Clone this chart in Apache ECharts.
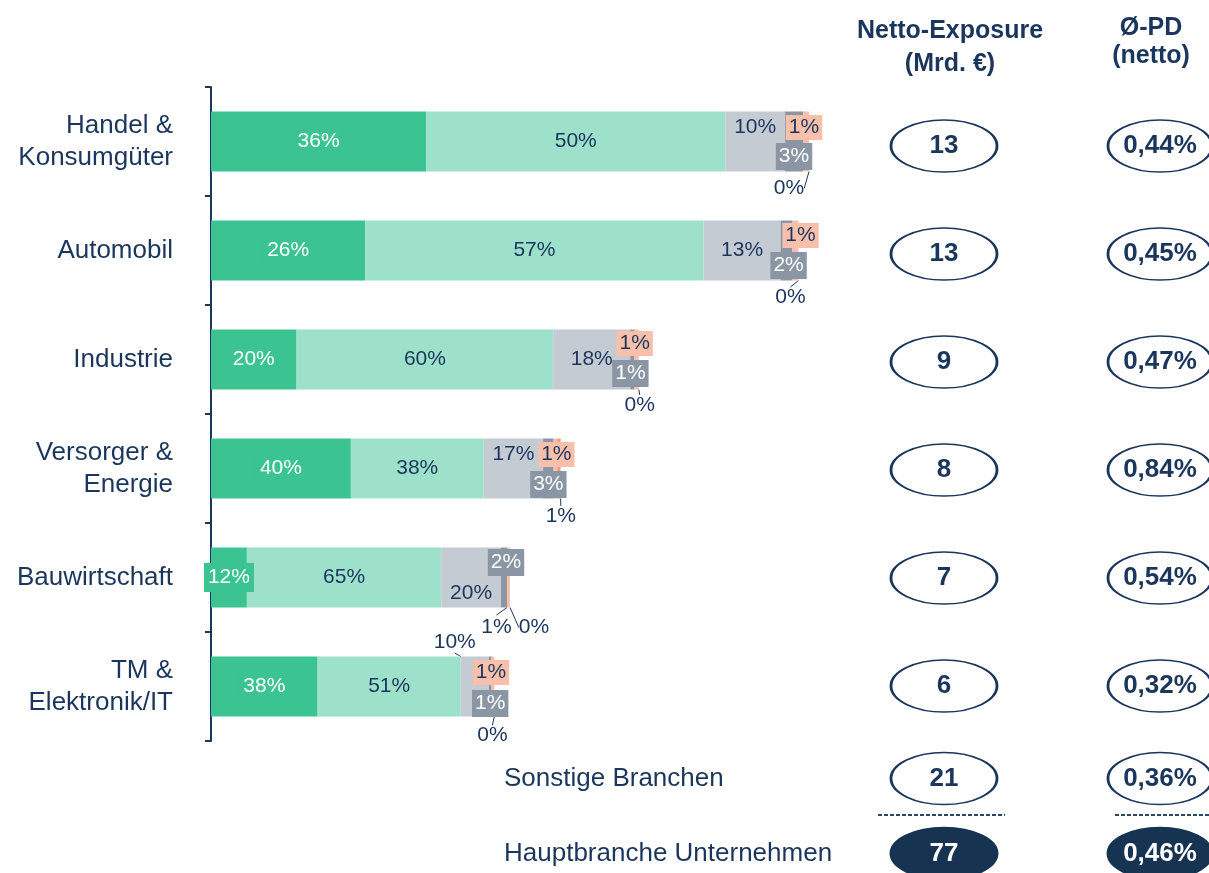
<!DOCTYPE html>
<html>
<head>
<meta charset="utf-8">
<script src="https://cdn.jsdelivr.net/npm/echarts@6/dist/echarts.min.js"></script>
<style>html,body{margin:0;padding:0;background:#fff}#c{width:1209px;height:873px}</style>
</head>
<body>
<div id="c"></div>
<script>
// ---------- DATA ----------
const categories = ['Handel &\nKonsumgüter', 'Automobil', 'Industrie', 'Versorger &\nEnergie', 'Bauwirtschaft', 'TM &\nElektronik/IT'];
const exposureLen = [13.0, 12.9, 9.3, 7.6, 6.5, 6.1];   // bar length (Mrd. €)
const shareA = [36, 26, 20, 40, 12, 38];   // dark green
const shareB = [50, 57, 60, 38, 65, 51];   // light green
const shareC = [10, 13, 18, 17, 20, 10];   // light grey
const shareD = [3, 2, 1, 3, 2, 1];         // dark grey
const shareE = [1, 1, 1, 1, 1, 1];         // salmon
const shareF = [0, 0, 0, 1, 0, 0];         // rest
const exposureLabels = ['13', '13', '9', '8', '7', '6'];
const pdLabels = ['0,44%', '0,45%', '0,47%', '0,84%', '0,54%', '0,32%'];
const summaryRows = ['Sonstige Branchen', 'Hauptbranche Unternehmen'];
const summaryExposure = ['21', '77'];
const summaryPd = ['0,36%', '0,46%'];
const headerExposure = 'Netto-Exposure\n(Mrd. €)';
const headerPd = 'Ø-PD\n(netto)';

// ---------- STYLE ----------
const NAVY = '#1B365D';
const FILLED = '#163352';
const C_A = '#3BC391', C_B = '#9DE1CA', C_C = '#C4CBD3', C_D = '#8A96A4', C_E = '#F8C0AA', C_F = '#EE9E84';
const FONT = 'Liberation Sans, Arial, sans-serif';
const ELLIPSE = 'path://M50,0 C77.6,0 100,22.4 100,50 C100,77.6 77.6,100 50,100 C22.4,100 0,77.6 0,50 C0,22.4 22.4,0 50,0 Z';

const offC = [[0, -14], [0, 0], [0, 0], [0, -14], [0, 16], [-20, -44]];
const offD = [[0, 15], [2, 15], [-2, 14], [0, 16], [2, -15], [0, 17]];
const offE = [[-2, -14], [5, -15], [-2, -16], [1, -14], [-12, 50], [-2, -14]];
const offF = [[-20, 47], [-8, 47], [1, 46], [2, 48], [24, 50], [-2, 49]];

function seg(shares, extra) {
  return shares.map((s, i) => {
    const item = { value: exposureLen[i] * s / 100 };
    if (extra && extra[i]) Object.assign(item, extra[i]);
    return item;
  });
}
function fmt(shares) { return p => shares[p.dataIndex] + '%'; }
function lay(off) { return p => ({ dx: off[p.dataIndex][0], dy: off[p.dataIndex][1] }); }

const baseBar = { type: 'bar', stack: 'total', barWidth: 60, xAxisIndex: 0, yAxisIndex: 0, emphasis: { disabled: true } };
const labelLine = { lineStyle: { color: NAVY, width: 1 }, length2: 0 };

function ellipseSeries(xIdx, yIdx, cols, labels, width, filledIndex) {
  return {
    type: 'scatter', xAxisIndex: xIdx, yAxisIndex: yIdx, symbol: ELLIPSE, symbolSize: [width, 52], silent: true,
    itemStyle: { color: '#fff', borderColor: NAVY, borderWidth: 2, opacity: 1 },
    data: labels.map((t, i) => i === filledIndex
      ? { value: [cols, i], itemStyle: { color: FILLED, borderColor: FILLED, opacity: 1 }, label: { color: '#fff' } }
      : [cols, i]),
    label: { show: true, position: 'inside', color: NAVY, fontSize: 26, fontWeight: 'bold', fontFamily: FONT, formatter: p => labels[p.dataIndex] },
    emphasis: { disabled: true }
  };
}

const series = [
  Object.assign({}, baseBar, {
    name: 'A', itemStyle: { color: C_A }, data: seg(shareA),
    label: { show: true, position: 'inside', color: '#fff', fontSize: 21, fontFamily: FONT, backgroundColor: C_A, padding: [4, 4], formatter: fmt(shareA) }
  }),
  Object.assign({}, baseBar, {
    name: 'B', itemStyle: { color: C_B }, data: seg(shareB),
    label: { show: true, position: 'inside', color: NAVY, fontSize: 21, fontFamily: FONT, formatter: fmt(shareB) }
  }),
  Object.assign({}, baseBar, {
    name: 'C', itemStyle: { color: C_C },
    data: seg(shareC, { 5: { labelLine: { show: true } } }),
    label: { show: true, position: 'inside', color: NAVY, fontSize: 21, fontFamily: FONT, formatter: fmt(shareC) },
    labelLine: labelLine, labelLayout: lay(offC)
  }),
  Object.assign({}, baseBar, {
    name: 'D', itemStyle: { color: C_D }, data: seg(shareD),
    label: { show: true, position: 'inside', color: '#fff', fontSize: 21, fontFamily: FONT, backgroundColor: C_D, padding: [3, 3], formatter: fmt(shareD) },
    labelLayout: lay(offD)
  }),
  Object.assign({}, baseBar, {
    name: 'E', itemStyle: { color: C_E },
    data: seg(shareE, { 4: { label: { backgroundColor: 'transparent' }, labelLine: { show: true } } }),
    label: { show: true, position: 'inside', color: NAVY, fontSize: 21, fontFamily: FONT, backgroundColor: C_E, padding: [2, 3], formatter: fmt(shareE) },
    labelLine: labelLine, labelLayout: lay(offE)
  }),
  Object.assign({}, baseBar, {
    name: 'F', itemStyle: { color: C_F }, data: seg(shareF),
    label: { show: true, position: 'inside', color: NAVY, fontSize: 21, fontFamily: FONT, formatter: fmt(shareF) },
    labelLine: Object.assign({ show: true }, labelLine), labelLayout: lay(offF)
  }),
  ellipseSeries(1, 1, 0, exposureLabels, 106, -1),
  ellipseSeries(1, 1, 1, pdLabels, 104, -1),
  ellipseSeries(2, 2, 0, summaryExposure, 106, 1),
  ellipseSeries(2, 2, 1, summaryPd, 104, 1)
];

const chart = echarts.init(document.getElementById('c'), null, { renderer: 'canvas' });
chart.setOption({
  animation: false,
  backgroundColor: '#fff',
  textStyle: { fontFamily: FONT },
  grid: [
    { left: 211, top: 87, width: 690, height: 654, outerBoundsMode: 'none', containLabel: false },
    { left: 836, top: 92, width: 432, height: 648, outerBoundsMode: 'none', containLabel: false },
    { left: 836, top: 741, width: 432, height: 150, outerBoundsMode: 'none', containLabel: false }
  ],
  xAxis: [
    { gridIndex: 0, type: 'value', min: 0, max: 15, show: false },
    { gridIndex: 1, type: 'category', data: ['exp', 'pd'], show: false },
    { gridIndex: 2, type: 'category', data: ['exp', 'pd'], show: false }
  ],
  yAxis: [
    {
      gridIndex: 0, type: 'category', data: categories, inverse: true,
      axisLine: { show: true, lineStyle: { color: NAVY, width: 2 } },
      axisTick: { show: true, length: 6, lineStyle: { color: NAVY, width: 2 } },
      axisLabel: { margin: 38, fontSize: 26, color: NAVY, lineHeight: 32, fontFamily: FONT, align: 'right' },
      splitLine: { show: false }
    },
    { gridIndex: 1, type: 'category', data: categories, inverse: true, show: false },
    {
      gridIndex: 2, type: 'category', data: summaryRows, inverse: true,
      axisLine: { show: false }, axisTick: { show: false }, splitLine: { show: false },
      axisLabel: { margin: 332, align: 'left', fontSize: 26, color: NAVY, fontFamily: FONT }
    }
  ],
  graphic: [
    { type: 'text', x: 950, y: 48, style: { text: headerExposure, font: 'bold 25px ' + FONT, fill: NAVY, align: 'center', verticalAlign: 'middle', textAlign: 'center', textVerticalAlign: 'middle', lineHeight: 33 } },
    { type: 'text', x: 1151, y: 42, style: { text: headerPd, font: 'bold 25px ' + FONT, fill: NAVY, align: 'center', verticalAlign: 'middle', textAlign: 'center', textVerticalAlign: 'middle', lineHeight: 28 } },
    { type: 'line', shape: { x1: 878, y1: 815, x2: 1005, y2: 815 }, style: { stroke: '#2C4666', lineWidth: 2, lineDash: [4, 2] } },
    { type: 'line', shape: { x1: 1115, y1: 815, x2: 1209, y2: 815 }, style: { stroke: '#2C4666', lineWidth: 2, lineDash: [4, 2] } }
  ],
  series: series
});
</script>
</body>
</html>
